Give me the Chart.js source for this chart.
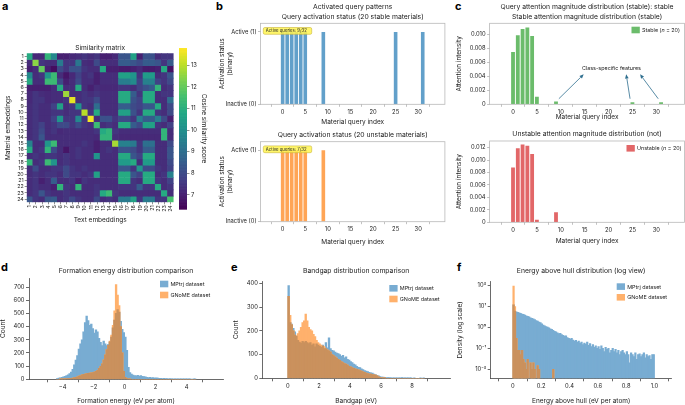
<!DOCTYPE html>
<html>
<head>
<meta charset="utf-8">
<script src="https://cdn.jsdelivr.net/npm/chart.js@4.4.1/dist/chart.umd.min.js"></script>
<style>
body { margin: 0; background: #fff; width: 685px; height: 405px; overflow: hidden; position: relative; font-family: Inter, sans-serif; }
canvas { position: absolute; }
.lt { position: absolute; font: bold 11px Inter, sans-serif; color: #000; line-height: 11px; }
</style>
</head>
<body>
<div class="lt" style="left:2px;top:1px">a</div>
<div class="lt" style="left:216px;top:1px">b</div>
<div class="lt" style="left:455px;top:1px">c</div>
<div class="lt" style="left:1px;top:262px">d</div>
<div class="lt" style="left:231px;top:262px">e</div>
<div class="lt" style="left:457px;top:262px">f</div>
<script>
// ---- data ----
const simLabels = Array.from({length: 24}, (_, i) => String(i + 1));
const simMatrix = [
  [10.9,7.2,7.2,11.2,9.8,7.0,7.0,7.2,7.3,7.5,7.3,7.5,7.0,7.0,7.2,8.3,8.3,10.6,7.0,8.2,8.2,7.3,7.5,7.5],
  [7.3,12.5,7.5,7.3,7.3,9.4,7.5,7.5,9.3,7.3,7.2,8.0,7.3,7.3,7.3,8.5,8.5,8.3,8.0,8.5,8.5,8.3,7.5,8.5],
  [7.0,7.3,12.0,7.0,6.6,8.0,7.5,8.2,8.2,7.5,7.3,7.3,10.9,7.0,7.0,6.9,6.9,7.0,7.2,6.9,6.9,7.0,10.9,6.7],
  [9.8,7.3,7.5,10.2,11.4,7.3,6.8,7.2,7.8,7.3,7.5,7.0,7.3,7.3,7.3,10.6,10.6,10.2,7.5,10.4,10.4,7.3,7.5,8.3],
  [10.9,7.3,7.3,11.4,11.4,8.0,7.0,7.3,8.0,7.3,7.3,7.0,7.3,7.3,7.3,9.5,9.5,9.9,7.8,9.6,9.6,7.8,7.5,8.0],
  [7.0,7.0,7.0,7.0,7.3,10.9,7.3,7.3,10.9,7.3,7.0,7.3,7.2,7.2,7.2,7.5,7.5,7.3,7.8,8.2,8.5,11.2,7.3,7.5],
  [7.2,7.5,7.3,7.2,7.3,7.3,12.7,7.3,7.3,7.5,7.3,7.5,7.3,7.3,7.3,10.9,10.9,8.5,7.5,10.9,10.9,7.3,7.5,7.5],
  [7.2,7.5,7.5,7.2,7.3,7.3,7.5,13.5,7.3,7.5,7.5,8.0,7.3,7.3,7.3,10.9,10.9,8.2,7.8,10.9,10.9,7.3,7.3,9.0],
  [7.3,7.5,7.3,7.3,7.8,10.6,7.3,7.5,10.2,7.5,7.3,9.0,7.3,7.3,7.3,8.5,8.5,8.0,7.8,8.3,8.3,10.9,7.3,8.0],
  [7.3,7.5,7.3,7.3,7.5,7.5,7.3,7.5,7.5,13.0,7.5,10.9,7.3,7.3,7.3,10.6,10.6,8.2,7.5,10.9,10.9,7.5,7.3,8.0],
  [7.3,7.5,7.3,7.3,7.8,10.2,7.5,7.5,9.8,7.5,13.7,7.3,8.2,8.2,7.5,8.0,8.0,7.5,9.5,8.5,8.5,9.5,8.0,7.0],
  [7.3,7.5,7.8,7.3,7.5,8.0,8.0,7.5,8.0,7.5,7.3,11.4,7.3,7.5,7.3,10.9,10.9,8.5,8.0,10.6,10.6,7.5,7.3,7.8],
  [7.3,7.5,8.0,7.3,7.5,7.2,7.3,7.3,7.3,7.3,7.3,7.5,10.9,11.2,7.5,7.3,7.3,7.3,7.3,7.3,7.3,7.3,11.2,7.3],
  [7.3,7.5,8.3,7.3,7.3,7.3,7.3,7.3,7.3,7.3,7.3,7.2,11.2,11.2,7.3,7.2,7.2,7.2,7.2,7.2,7.2,7.2,11.2,7.3],
  [9.6,7.3,7.3,10.2,11.4,7.3,7.3,7.3,7.3,7.5,7.3,7.0,7.3,7.3,12.8,9.6,9.6,9.4,7.5,9.1,9.1,7.3,7.3,8.0],
  [10.9,7.3,7.5,11.2,8.0,7.3,6.8,7.3,7.5,7.3,7.3,7.0,7.3,7.5,7.3,8.2,8.2,8.0,7.5,8.5,8.5,7.3,7.3,8.3],
  [7.3,7.5,7.3,7.5,7.5,7.3,7.5,7.3,7.5,7.3,7.3,10.2,7.3,7.3,7.3,10.9,10.9,8.3,7.8,10.9,10.9,7.3,7.3,8.3],
  [11.2,7.3,7.5,11.4,10.2,7.3,7.5,7.3,7.3,7.3,7.3,7.3,7.3,7.3,7.3,10.4,10.4,10.9,7.3,10.4,10.4,7.3,7.3,8.0],
  [7.3,8.0,7.3,7.3,7.5,7.5,8.0,7.5,7.3,7.5,7.3,7.3,7.3,7.3,7.3,8.3,8.3,7.5,10.2,8.0,8.0,7.5,7.3,7.8],
  [7.3,7.5,7.3,7.5,7.5,7.3,8.0,7.5,7.5,7.3,7.5,10.6,7.3,7.3,7.3,10.9,10.9,8.3,7.8,10.9,10.9,7.3,7.5,9.6],
  [7.3,7.5,7.0,7.3,8.5,7.3,7.3,7.5,7.0,7.5,7.3,7.3,7.3,7.3,7.3,10.9,10.9,7.5,7.3,10.9,10.9,7.5,7.3,7.8],
  [7.3,7.5,7.3,7.3,7.0,11.2,7.5,7.3,11.2,7.3,7.3,7.5,7.3,7.3,7.3,7.5,7.5,7.5,8.5,7.5,7.5,10.9,7.3,7.5],
  [7.3,7.5,8.3,7.5,7.3,7.3,7.5,7.3,7.3,7.3,7.3,7.5,10.9,11.4,7.5,7.3,7.3,7.3,7.3,7.3,7.3,7.3,10.9,7.3],
  [8.3,7.5,7.3,8.3,8.5,7.3,7.5,8.0,7.5,7.3,7.3,8.0,7.3,7.5,7.3,9.4,9.4,10.6,7.5,9.4,9.4,7.5,7.5,11.6]
];
const cMin = 6.35, cMax = 13.8;
const cbarTicks = [7, 8, 9, 10, 11, 12, 13];

const queryIdx = Array.from({length: 32}, (_, i) => i);
const queryTicks = [0, 5, 10, 15, 20, 25, 30];
const stableActive   = [1,1,1,1,1,1,0,0,0,1,0,0,0,0,0,0,0,0,0,0,0,0,0,0,0,1,0,0,0,0,0,1];
const unstableActive = [1,1,1,1,1,1,0,0,0,1,0,0,0,0,0,0,0,0,0,0,0,0,0,0,0,0,0,0,0,0,0,0];
const stableAttn = [0.0075,0.0099,0.0108,0.0110,0.0098,0.0011,0,0,0,0.0004,0,0,0,0,0,0,0,0,0,0,0,0,0,0,0,0.0003,0,0,0,0,0,0.0003];
const unstableAttn = [0.0088,0.0119,0.0125,0.0123,0.0110,0.0004,0,0,0,0.0016,0,0,0,0,0,0,0,0,0,0,0,0,0,0,0,0,0,0,0,0,0,0];
const attnTicksStable = [0, 0.002, 0.004, 0.006, 0.008, 0.010];
const attnTicksUnstable = [0, 0.002, 0.004, 0.006, 0.008, 0.010, 0.012];

// formation energy histogram, bins of 0.1 eV from -4.4
const feStart = -4.4, feWidth = 0.1;
const feMPtrj = [5,8,10,14,18,22,28,33,42,55, 75,110,145,180,230,270,300,360,430,480,
  445,410,420,385,350,375,360,310,280,255, 290,270,255,265,285,320,390,450,500,530,
  510,440,380,355,320,220,90,50,40,32, 28,25,30,24,28,22,20,18,15,12,
  14,10,12,9,11,8,7,6,5,6, 4,5,3,4,3,2,3,2,2,2, 1,2,1,2,1,1,1,0,1,1];
const feGNoME = [0,0,1,1,2,2,3,4,5,7, 9,12,15,19,24,28,33,37,40,42,
  44,46,48,50,54,60,68,82,98,118, 148,185,225,258,290,335,410,520,720,640,
  560,400,200,60,15,5,2,1,0,0, 0,0,0,0,0,0,0,0,0,0,
  0,0,0,0,0,0,0,0,0,0, 0,0,0,0,0,0,0,0,0,0, 0,0,0,0,0,0,0,0,0,0];
const feTicks = [-4, -2, 0, 2, 4];

// bandgap histogram, bins of 0.1 eV from 0
const bgStart = 0, bgWidth = 0.1;
const bgMPtrj = [390,235,228,210,195,178,160,152,148,155, 150,155,150,146,150,140,145,132,145,140,
  135,130,140,125,150,128,170,125,118,115, 110,106,104,100,92,96,86,90,80,76,
  70,66,60,56,50,46,45,40,36,32, 30,28,25,23,22,18,15,12,10,7,
  5,5,4,3,3,3,2,2,2,2, 1,2,1,3,1,1,1,1,1,1, 0,1,0,0,0,1,0,1];
const bgGNoME = [345,265,225,200,182,178,188,200,215,235, 242,270,242,215,205,200,185,175,160,150,
  145,140,135,133,125,120,115,110,100,95, 90,85,80,75,70,66,62,60,55,50,
  48,45,42,40,38,35,32,30,27,25, 22,20,18,17,15,14,13,10,6,3,
  2,1,1,0,0,0,0,0,0,0, 0,0,0,0,0,0,0,0,0,0, 0,0,0,0,0,0,0,0];
const bgTicks = [0, 2, 4, 6, 8];

// energy above hull density, bins of 0.01 eV from 0
const ehStart = 0, ehWidth = 0.01;
const ehMPtrj = [12,6.0,5.6,5.3,5.0,4.7,4.4,4.2,3.9,3.6, 3.4,3.2,2.9,2.7,2.6,2.4,2.1,2.0,1.8,1.7,
  1.5,1.3,1.2,1.1,1.05,0.95,0.85,0.8,0.72,0.65, 0.62,0.55,0.5,0.52,0.45,0.42,0.38,0.4,0.33,0.3,
  0.28,0.3,0.25,0.22,0.24,0.2,0.22,0.18,0.2,0.15, 0.18,0.16,0.2,0.14,0.17,0.12,0.15,0.11,0.13,0.1,
  0.12,0.09,0.13,0.1,0.07,0.11,0.09,0.1,0.06,0.08, 0.1,0.07,0.09,0.06,0.08,0.05,0.07,0.08,0.06,0.05,
  0.07,0.05,0.02,0.06,0.05,0.04,0.06,0.03,0.05,0.055, 0.04,0.05,0.06,0.035,0.05,0.04,0.045,0.03,0.05,0.05];
const ehGNoME = [95,10,0.3,0.08,0.08,0.05,0.08,0.03,0.02,0.01, 0.03,null,0.02,0.01,0.02,0.01,null,0.015,0.01,null,
  null,null,null,null,null,null,null,null,0.01,null];
const ehTicks = [0.01, 0.1, 1, 10, 100];
const ehTickLabels = ['10\u207b\u00b2', '10\u207b\u00b9', '10\u2070', '10\u00b9', '10\u00b2'];
const ehXTicks = [0, 0.2, 0.4, 0.6, 0.8, 1.0];

// ---- colours ----
// histogram colours: tab:blue / tab:orange at alpha 0.6 on white, and orange over blue
const BLUE = 'rgb(120,172,210)', ORANGE = 'rgb(255,177,108)', BROWN = 'rgb(202,145,93)';
const BLUE_B = 'rgba(31,119,180,0.7)', ORANGE_B = 'rgba(255,127,14,0.7)';
const GREEN = 'rgba(44,160,44,0.7)', RED = 'rgba(214,39,40,0.7)';
const VIR = ['#440154','#482475','#414487','#355f8d','#2a788e','#21918c','#22a884','#44bf70','#7ad151','#bddf26','#fde725'];
function viridis(v) {
  let t = Math.min(1, Math.max(0, (v - cMin) / (cMax - cMin))) * 10;
  const i = Math.min(9, Math.floor(t)), f = t - i;
  const a = VIR[i], b = VIR[i + 1];
  const c = k => Math.round(parseInt(a.substr(k, 2), 16) * (1 - f) + parseInt(b.substr(k, 2), 16) * f);
  return 'rgb(' + c(1) + ',' + c(3) + ',' + c(5) + ')';
}

// ---- helpers ----
Chart.defaults.font.family = 'Inter, sans-serif';
Chart.defaults.color = '#222';
Chart.defaults.animation = false;
Chart.defaults.plugins.legend.display = false;
Chart.defaults.plugins.tooltip.enabled = false;
const TICK = {size: 5.8};
const LAB = {size: 6.5, lineHeight: 1.2};

const boxLegend = {
  id: 'boxLegend',
  afterDatasetsDraw(ch, args, o) {
    if (!o.items) return;
    const {ctx, chartArea: a} = ch;
    ctx.save();
    o.items.forEach((it, i) => {
      const x = a.right - o.dx, y = a.top + o.dy + i * (o.gap || 0);
      ctx.fillStyle = it.color;
      ctx.fillRect(x, y, 8.3, 6.6);
      ctx.fillStyle = '#222';
      ctx.textBaseline = 'middle';
      let tx = x + 10.5;
      it.text.forEach(seg => {
        ctx.font = (seg.i ? 'italic ' : '') + o.size + 'px Inter, sans-serif';
        ctx.fillText(seg.t, tx, y + 3.6);
        tx += ctx.measureText(seg.t).width;
      });
    });
    ctx.restore();
  }
};
const frame = {
  id: 'frame',
  afterDatasetsDraw(ch, args, o) {
    if (!o.on) return;
    const {ctx, chartArea: a} = ch;
    ctx.save();
    ctx.strokeStyle = '#b8b8b8';
    ctx.lineWidth = 0.8;
    ctx.strokeRect(a.left, a.top, a.right - a.left, a.bottom - a.top);
    ctx.restore();
  }
};
Chart.register(boxLegend, frame);

function lin(min, max, ticks, fmt, extra) {
  return Object.assign({
    type: 'linear', min, max,
    afterBuildTicks: s => { s.ticks = ticks.map(v => ({value: v})); },
    ticks: {font: TICK, padding: 1.5, autoSkip: false, maxRotation: 0, callback: fmt || (v => String(v))},
    grid: {drawOnChartArea: false, tickLength: 3, color: '#444', lineWidth: 0.8},
    border: {color: '#444', width: 0.8}
  }, extra || {});
}

function mk(box, area, cfg, t) {
  const c = document.createElement('canvas');
  c.width = box.w; c.height = box.h;
  c.style.left = box.l + 'px'; c.style.top = box.t + 'px';
  document.body.appendChild(c);
  const o = cfg.options;
  o.responsive = false;
  o.layout = {padding: {left: 0, top: 0, bottom: 0, right: box.l + box.w - area.x1}};
  o.plugins = o.plugins || {};
  const pt = t.ty - box.t - t.tlh / 2;
  o.plugins.title = {display: true, fullSize: false, text: t.title, color: '#222',
    font: {size: t.tsize || 6.8, weight: 'normal', lineHeight: t.tlh + 'px'},
    padding: {top: pt, bottom: area.y0 - box.t - pt - t.tlh * t.title.length}};
  const xlh = LAB.size * LAB.lineHeight;
  o.scales.x.title = {display: true, text: t.x, font: LAB, color: '#222',
    padding: {top: 0, bottom: box.t + box.h - t.xy - xlh / 2}};
  const ylh = t.ylh || xlh;
  o.scales.y.title = {display: true, text: t.y, color: '#222',
    font: {size: LAB.size, lineHeight: ylh + 'px'},
    padding: {top: t.yx - box.l - ylh / 2, bottom: 0}};
  o.scales.x.afterFit = s => { s.height = box.t + box.h - area.y1; };
  o.scales.y.afterFit = s => { s.width = area.x0 - box.l; };
  return new Chart(c, cfg);
}

function binned(vals, start, width) {
  return vals.map((v, i) => ({x: start + width * (i + 0.5), y: v}));
}

// ---- a: similarity matrix ----
mk({l: 0, t: 40, w: 178, h: 192}, {x0: 26.7, y0: 53.3, x1: 175.7, y1: 202.3}, {
  type: 'bar',
  data: {
    labels: simLabels,
    datasets: simMatrix.map((row, r) => ({
      data: simLabels.map(() => [r, r + 1]),
      backgroundColor: row.map(viridis),
      borderWidth: 0,
      barPercentage: 1, categoryPercentage: 1, grouped: false
    }))
  },
  options: {
    scales: {
      x: {type: 'category', offset: true,
        ticks: {font: {size: 5.3}, padding: 1, autoSkip: false, minRotation: 90, maxRotation: 90},
        grid: {drawOnChartArea: false, offset: false, tickLength: 2, color: '#444', lineWidth: 0.6},
        border: {display: false}},
      y: {type: 'linear', min: 0, max: 24, reverse: true,
        afterBuildTicks: s => { s.ticks = simLabels.map((_, i) => ({value: i + 0.5})); },
        ticks: {font: {size: 5.3}, padding: 1, autoSkip: false, callback: v => simLabels[Math.floor(v)]},
        grid: {drawOnChartArea: false, tickLength: 2, color: '#444', lineWidth: 0.6},
        border: {display: false}}
    }
  }
}, {title: ['Similarity matrix'], ty: 48.3, tlh: 8, tsize: 6.6,
    x: 'Text embeddings', xy: 220.5, y: 'Material embeddings', yx: 8});

// colour bar
(function () {
  const c = document.createElement('canvas');
  c.width = 36; c.height = 175; c.style.left = '176px'; c.style.top = '40px';
  document.body.appendChild(c);
  new Chart(c, {
    type: 'bar',
    data: {labels: [''], datasets: [{data: []}]},
    options: {
      responsive: false,
      layout: {padding: {left: 3, top: 8, bottom: 6, right: 0}},
      scales: {
        x: {display: false},
        y: lin(cMin, cMax, cbarTicks, null, {position: 'right',
          afterFit: s => { s.width = 25; },
          grid: {drawOnChartArea: false, tickLength: 2.5, color: '#444', lineWidth: 0.6},
          border: {display: false},
          title: {display: true, text: 'Cosine similarity score', font: LAB, color: '#222', padding: {top: 4.6, bottom: 0}}})
      }
    },
    plugins: [{
      id: 'grad',
      beforeDatasetsDraw(ch) {
        const {ctx, chartArea: a, scales: {y}} = ch;
        const step = 0.02;
        for (let v = cMin; v < cMax; v += step) {
          const y0 = y.getPixelForValue(v), y1 = y.getPixelForValue(Math.min(cMax, v + step));
          ctx.fillStyle = viridis(v + step / 2);
          ctx.fillRect(a.left, y1, a.right - a.left, y0 - y1 + 0.6);
        }
      }
    }]
  });
})();

// ---- b: activation status ----
function badge(text) {
  return {
    id: 'badge',
    afterDatasetsDraw(ch) {
      const {ctx, chartArea: a} = ch;
      const x = a.left + 2.8, y = a.top + 4.2, w = 48.4, h = 6.8;
      ctx.save();
      ctx.beginPath();
      ctx.roundRect(x, y, w, h, 1.5);
      ctx.fillStyle = 'rgba(255,245,80,0.85)';
      ctx.fill();
      ctx.strokeStyle = '#c9b53a';
      ctx.lineWidth = 0.6;
      ctx.stroke();
      ctx.fillStyle = '#222';
      ctx.font = '4.3px Inter, sans-serif';
      ctx.textBaseline = 'middle';
      ctx.fillText(text, x + 2.5, y + h / 2 + 0.2);
      ctx.restore();
    }
  };
}
function activeCfg(vals, color, text) {
  return {
    type: 'bar',
    data: {datasets: [{data: queryIdx.map((q, i) => ({x: q, y: vals[i]})), backgroundColor: color,
      borderWidth: 0, barPercentage: 0.8, categoryPercentage: 1}]},
    options: {
      plugins: {frame: {on: true}},
      scales: {
        x: lin(-1.99, 32.99, queryTicks, null, {grid: {drawOnChartArea: false, tickLength: 2.5, color: '#999', lineWidth: 0.6}, border: {display: false}}),
        y: lin(0, 1.12, [0, 1], v => v === 1 ? 'Active (1)' : 'Inactive (0)', {grid: {drawOnChartArea: false, tickLength: 2.5, color: '#999', lineWidth: 0.6}, border: {display: false}})
      }
    },
    plugins: [badge(text)]
  };
}
mk({l: 208, t: 0, w: 242, h: 127}, {x0: 260.5, y0: 23.3, x1: 444.9, y1: 104.3},
  activeCfg(stableActive, BLUE_B, 'Active queries: 9/32'),
  {title: ['Activated query patterns', 'Query activation status (20 stable materials)'], ty: 6.5, tlh: 10,
   x: 'Material query index', xy: 121.7, y: ['Activation status', '(binary)'], yx: 222, ylh: 8});
mk({l: 208, t: 127, w: 242, h: 122}, {x0: 260.5, y0: 141.7, x1: 444.9, y1: 221.7},
  activeCfg(unstableActive, ORANGE_B, 'Active queries: 7/32'),
  {title: ['Query activation status (20 unstable materials)'], ty: 135, tlh: 10,
   x: 'Material query index', xy: 241.7, y: ['Activation status', '(binary)'], yx: 222, ylh: 8});

// ---- c: attention magnitude ----
function attnCfg(vals, color, ymax, ticks, legend, extra) {
  return {
    type: 'bar',
    data: {datasets: [{data: queryIdx.map((q, i) => ({x: q, y: vals[i]})), backgroundColor: color,
      borderWidth: 0, barPercentage: 0.8, categoryPercentage: 1}]},
    options: {
      plugins: {frame: {on: true}, boxLegend: legend},
      scales: {
        x: lin(-1.99, 32.99, queryTicks, null, {grid: {drawOnChartArea: false, tickLength: 2.5, color: '#999', lineWidth: 0.6}, border: {display: false}}),
        y: lin(0, ymax, ticks, v => v === 0 ? '0' : v.toFixed(3), {grid: {drawOnChartArea: false, tickLength: 2.5, color: '#999', lineWidth: 0.6}, border: {display: false}})
      }
    },
    plugins: extra ? [extra] : []
  };
}
const classArrows = {
  id: 'classArrows',
  afterDatasetsDraw(ch) {
    const {ctx, scales: {x, y}} = ch;
    const arrows = [[9.6, 0.0008, 14.8, 0.0043], [24.5, 0.0008, 23.7, 0.0043], [30.4, 0.0008, 26.6, 0.0043]];
    ctx.save();
    ctx.strokeStyle = '#2f6f8f'; ctx.fillStyle = '#2f6f8f'; ctx.lineWidth = 0.8;
    arrows.forEach(([a, b, c, d]) => {
      const x0 = x.getPixelForValue(a), y0 = y.getPixelForValue(b);
      const x1 = x.getPixelForValue(c), y1 = y.getPixelForValue(d);
      const ang = Math.atan2(y1 - y0, x1 - x0), L = 4.2, W = 1.8;
      ctx.beginPath(); ctx.moveTo(x0, y0);
      ctx.lineTo(x1 - L * Math.cos(ang), y1 - L * Math.sin(ang)); ctx.stroke();
      ctx.beginPath(); ctx.moveTo(x1, y1);
      ctx.lineTo(x1 - L * Math.cos(ang) + W * Math.sin(ang), y1 - L * Math.sin(ang) - W * Math.cos(ang));
      ctx.lineTo(x1 - L * Math.cos(ang) - W * Math.sin(ang), y1 - L * Math.sin(ang) + W * Math.cos(ang));
      ctx.closePath(); ctx.fill();
    });
    ctx.fillStyle = '#222';
    ctx.font = '5.4px Inter, sans-serif';
    ctx.textAlign = 'center'; ctx.textBaseline = 'middle';
    ctx.fillText('Class-specific features', x.getPixelForValue(20.6), y.getPixelForValue(0.0051));
    ctx.restore();
  }
};
mk({l: 452, t: 0, w: 233, h: 122}, {x0: 489.6, y0: 23.3, x1: 684.5, y1: 104.3},
  attnCfg(stableAttn, GREEN, 0.01162, attnTicksStable,
    {items: [{color: GREEN, text: [{t: 'Stable ('}, {t: 'n', i: true}, {t: ' = 20)'}]}], dx: 53, dy: 3.4, size: 5.4},
    classArrows),
  {title: ['Query attention magnitude distribution (stable): stable', 'Stable attention magnitude distribution (stable)'], ty: 6.5, tlh: 10,
   x: 'Material query index', xy: 117.3, y: 'Attention intensity', yx: 459.5});
mk({l: 452, t: 125, w: 233, h: 122}, {x0: 489.6, y0: 141, x1: 684.5, y1: 222.3},
  attnCfg(unstableAttn, RED, 0.01307, attnTicksUnstable,
    {items: [{color: RED, text: [{t: 'Unstable ('}, {t: 'n', i: true}, {t: ' = 20)'}]}], dx: 58, dy: 4, size: 5.4}),
  {title: ['Unstable attention magnitude distribution (not)'], ty: 134, tlh: 10,
   x: 'Material query index', xy: 241, y: 'Attention intensity', yx: 459.5});

// ---- d, e, f: dataset distributions ----
// the two histograms overlap; the shared part (min of both) is drawn in the blended colour
function histCfg(a, b, start, width, xs, ys, legend) {
  const both = a.map((v, i) => (v == null || b[i] == null) ? null : Math.min(v, b[i]));
  const ds = (vals, color, order) => ({data: binned(vals, start, width), backgroundColor: color, borderWidth: 0,
    barPercentage: 1, categoryPercentage: 1, grouped: false, inflateAmount: 0.4, order});
  return {
    type: 'bar',
    data: {datasets: [ds(a, BLUE, 3), ds(b, ORANGE, 2), ds(both, BROWN, 1)]},
    options: {plugins: {boxLegend: legend}, scales: {x: xs, y: ys}}
  };
}
const dsItems = [{color: BLUE, text: [{t: 'MPtrj dataset'}]}, {color: ORANGE, text: [{t: 'GNoME dataset'}]}];
const minus = v => (v < 0 ? '\u2212' + Math.abs(v) : String(v));

mk({l: -3, t: 258, w: 231, h: 147}, {x0: 29, y0: 278, x1: 223, y1: 379.3},
  histCfg(feMPtrj, feGNoME, feStart, feWidth,
    lin(-4.92, 5.1, feTicks, minus), lin(0, 770, [0, 100, 200, 300, 400, 500, 600, 700]),
    {items: dsItems, dx: 63, dy: 2.7, gap: 11, size: 5.4}),
  {title: ['Formation energy distribution comparison'], ty: 271, tlh: 9,
   x: 'Formation energy (eV per atom)', xy: 400.7, y: 'Count', yx: 3.5});

mk({l: 230, t: 258, w: 225, h: 147}, {x0: 262.3, y0: 281, x1: 450, y1: 378.3},
  histCfg(bgMPtrj, bgGNoME, bgStart, bgWidth,
    lin(-0.44, 9.24, bgTicks), lin(0, 410, [0, 100, 200, 300, 400]),
    {items: dsItems, dx: 60.7, dy: 4, gap: 10.7, size: 5.4}),
  {title: ['Bandgap distribution comparison'], ty: 271, tlh: 9,
   x: 'Bandgap (eV)', xy: 400.7, y: 'Count', yx: 236.5});

mk({l: 455, t: 258, w: 230, h: 147}, {x0: 490.7, y0: 281.7, x1: 671.7, y1: 378.3},
  histCfg(ehMPtrj, ehGNoME, ehStart, ehWidth,
    lin(-0.05, 1.015, ehXTicks, v => v === 0 ? '0' : v.toFixed(1)),
    lin(0.0037, 155, ehTicks, v => ehTickLabels[ehTicks.indexOf(v)], {type: 'logarithmic'}),
    {items: dsItems, dx: 55, dy: 1.6, gap: 10.7, size: 5.4}),
  {title: ['Energy above hull distribution (log view)'], ty: 271, tlh: 9,
   x: 'Energy above hull (eV per atom)', xy: 400.7, y: 'Density (log scale)', yx: 460.5});
</script>
</body>
</html>
